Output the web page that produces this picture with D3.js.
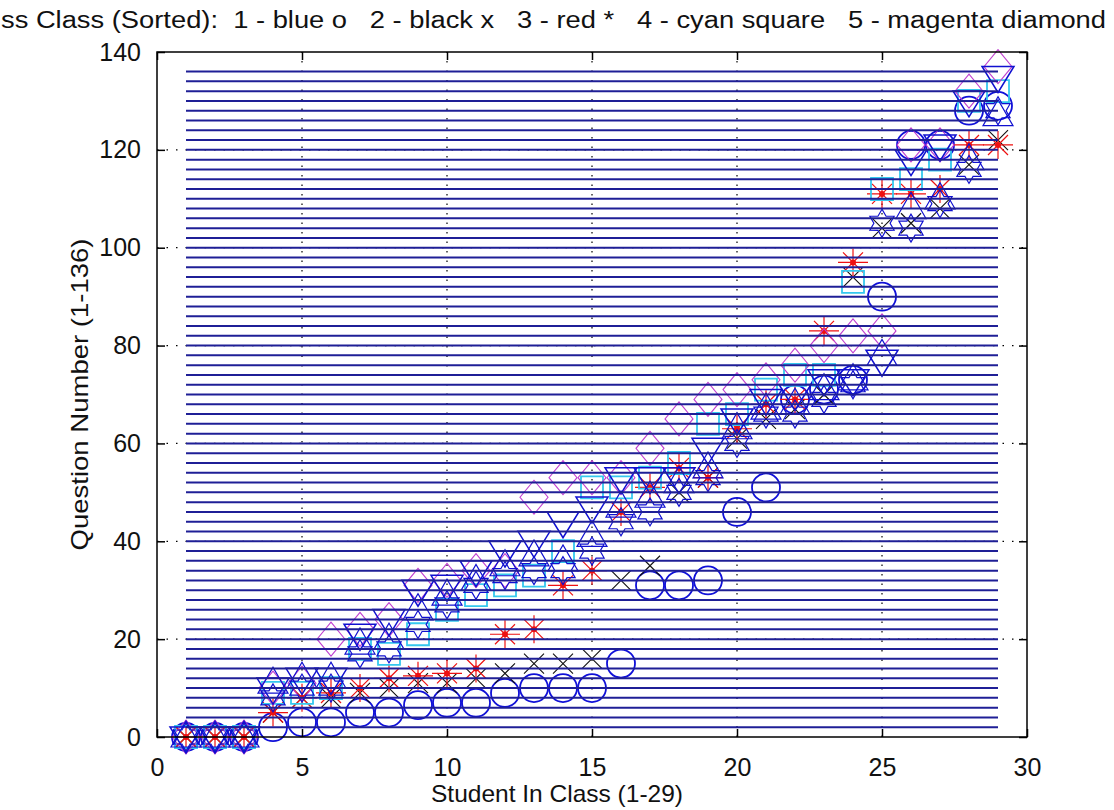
<html lang='eng'>
    <head>
        <title>Questions by Class</title>
        <script src="https://d3js.org/d3.v7.min.js" charset="utf-8"></script>
        <style>
        body{
          margin: 0;
          background: white;
          font-family: "Liberation Sans", Arial, sans-serif;
        }
        text { white-space: pre; }
        </style>
    </head>
    <body>
        <script>
            //Chart data
            var students = [1,2,3,4,5,6,7,8,9,10,11,12,13,14,15,16,17,18,19,20,21,22,23,24,25,26,27,28,29];

            var classBlueO    = [0,0,0,2,3,3,5,5,6.5,7,7,9,10,10,10,15,31,31,32,46,51,69,71,73,90,121,121,128,129];
            var classBlackX   = [0,0,0,5,8,8,9,10,11,11,12,13,15,15,16,32,35,50,53,61,65,67,70,94,104,105,108,117,122];
            var classRedStar  = [0,0,0,5,8,9,10,12,12.5,13,14,21,22,31,34,46,51,55,53,63,68,69,83,97,111,111,112,121,121];
            var classCyanSq   = [0,0,0,9,9,10,18,17,21,26,29,31,33,38,51,51,53,56,64,66,71,74,74,93,112,114,118,130,132];
            var classMagDiam  = [0,0,0,10,11,20,22,24,31,32,34,34,49,53,53,53,59,65,69,71,73,76,80,82,83,121,121,132,137];
            var classBlueV    = [0,0,0,10,12,12,21,24,30,31,34,38,40,44,47,53,53,53,59,65,69,70,73,73,77,118,121,130,135];
            var classBlueUp   = [0,0,0,11,12,12,19,20,26,29,32,35,37,36,41,47,49,52,55,63,67,68,71,73,78,108,110,118,127];
            var classBlueHex  = [0,0,0,8,10,10,17,18,23,27,31,33,34,34,38,44,46,50,53,60,66,66,69,72,105,104,109,116,128];

            //question rows drawn across the class
            var questionRows = [2,4,6,8,10,12,14,16,18,20,22,24,26,28,30,32,34,36,38,40,42,44,46,48,50,52,54,56,58,60,62,64,66,68,
                                70,72,74,76,78,80,82,84,86,88,90,92,94,96,98,100,102,104,106,108,110,112,114,116,118,120,122,124,126,128,130,132,134,136];
            var rowExtent = [1, 29];

            var xTicks = [0,5,10,15,20,25,30];
            var yTicks = [0,20,40,60,80,100,120,140];

            //title as it shows in the figure (its start runs off the left edge)
            var titleText = "ss Class (Sorted):  1 - blue o   2 - black x   3 - red *   4 - cyan square   5 - magenta diamond";

            //Width and height of the figure
            var width = 1114
            var height = 810

            var x = d3.scaleLinear().domain([0, 30]).range([157, 1027]);
            var y = d3.scaleLinear().domain([0, 140]).range([737, 52]);

            var svg = d3.select("body")
                        .append("svg")
                        .attr("width", width)
                        .attr("height", height);

            //grid (dotted)
            svg.append("g").selectAll("line")
              .data(xTicks.slice(1, -1))
              .enter().append("line")
              .attr("x1", function(d){ return x(d); })
              .attr("x2", function(d){ return x(d); })
              .attr("y1", y(0)).attr("y2", y(140))
              .attr("stroke", "#000").attr("stroke-width", 1.2)
              .attr("stroke-dasharray", "1.5,8");
            svg.append("g").selectAll("line")
              .data(yTicks.slice(1, -1))
              .enter().append("line")
              .attr("y1", function(d){ return y(d); })
              .attr("y2", function(d){ return y(d); })
              .attr("x1", x(0)).attr("x2", x(30))
              .attr("stroke", "#000").attr("stroke-width", 1.2)
              .attr("stroke-dasharray", "1.5,8");

            //marker shapes
            function hexagram(r) {
              var pts = [];
              for (var i = 0; i < 12; i++) {
                var a = Math.PI / 2 + i * Math.PI / 6;
                var rr = i % 2 ? r * 0.58 : r;
                pts.push([rr * Math.cos(a), -rr * Math.sin(a)]);
              }
              return "M" + pts.join("L") + "Z";
            }
            var shapes = {
              circle:  "M14,0A14,14 0 1,1 -14,0A14,14 0 1,1 14,0Z",
              cross:   "M-10,-10L10,10M-10,10L10,-10",
              star:    "M-15,0L15,0M0,-14L0,14M-10,-10L10,10M-10,10L10,-10",
              square:  "M-11,-11L11,-11L11,11L-11,11Z",
              diamond: "M0,-17L14,0L0,17L-14,0Z",
              tridown: "M-16,-10L16,-10L0,16Z",
              triup:   "M-15,10L15,10L0,-16Z",
              hex:     hexagram(14)
            };

            var series = [
              {values: classBlueO,   shape: "circle",  color: "#1010d8", w: 1.8},
              {values: classBlackX,  shape: "cross",   color: "#111",    w: 1.1},
              {values: classRedStar, shape: "star",    color: "#ee1111", w: 1.2},
              {values: classCyanSq,  shape: "square",  color: "#35c8ee", w: 1.8},
              {values: classMagDiam, shape: "diamond", color: "#c040d0", w: 1.1},
              {values: classBlueV,   shape: "tridown", color: "#1010d0", w: 1.5},
              {values: classBlueUp,  shape: "triup",   color: "#1010d0", w: 1.2},
              {values: classBlueHex, shape: "hex",     color: "#1010d0", w: 1.2}
            ];

            series.forEach(function(s) {
              svg.append("g").selectAll("path")
                .data(students)
                .enter().append("path")
                .attr("transform", function(d, i){ return "translate(" + x(d) + "," + y(s.values[i]) + ")"; })
                .attr("d", shapes[s.shape])
                .attr("fill", "none")
                .attr("stroke", s.color)
                .attr("stroke-width", s.w);
              if (s.shape == "star") {
                svg.append("g").selectAll("circle")
                  .data(students)
                  .enter().append("circle")
                  .attr("cx", function(d){ return x(d); })
                  .attr("cy", function(d, i){ return y(s.values[i]); })
                  .attr("r", 3)
                  .attr("fill", s.color);
              }
            });

            //question rows
            svg.append("g").selectAll("line")
              .data(questionRows)
              .enter().append("line")
              .attr("x1", x(rowExtent[0]))
              .attr("x2", x(rowExtent[1]))
              .attr("y1", function(d){ return y(d); })
              .attr("y2", function(d){ return y(d); })
              .attr("stroke", "#1f1f96")
              .attr("stroke-width", 2);

            //axes box with inward ticks
            svg.append("rect")
              .attr("x", x(0)).attr("y", y(140))
              .attr("width", x(30) - x(0)).attr("height", y(0) - y(140))
              .attr("fill", "none").attr("stroke", "#000").attr("stroke-width", 1.5);

            var axBottom = svg.append("g").attr("transform", "translate(0," + y(0) + ")")
              .call(d3.axisBottom(x).tickValues(xTicks).tickSizeInner(-8).tickSizeOuter(0).tickPadding(21));
            var axTop = svg.append("g").attr("transform", "translate(0," + y(140) + ")")
              .call(d3.axisTop(x).tickValues(xTicks).tickSizeInner(-8).tickSizeOuter(0).tickFormat(""));
            var axLeft = svg.append("g").attr("transform", "translate(" + x(0) + ",0)")
              .call(d3.axisLeft(y).tickValues(yTicks).tickSizeInner(-8).tickSizeOuter(0).tickPadding(16));
            var axRight = svg.append("g").attr("transform", "translate(" + x(30) + ",0)")
              .call(d3.axisRight(y).tickValues(yTicks).tickSizeInner(-8).tickSizeOuter(0).tickFormat(""));

            [axBottom, axTop, axLeft, axRight].forEach(function(a) {
              a.select(".domain").remove();
              a.selectAll(".tick line").attr("stroke", "#000").attr("stroke-width", 1.5);
              a.selectAll("text")
                .attr("font-family", "'Liberation Sans', Arial, sans-serif")
                .attr("font-size", 25)
                .attr("fill", "#111");
            });

            //labels
            svg.append("text")
              .attr("x", 1).attr("y", 28)
              .attr("font-size", 23)
              .attr("textLength", 1105)
              .attr("lengthAdjust", "spacingAndGlyphs")
              .attr("fill", "#111")
              .text(titleText);

            svg.append("text")
              .attr("x", 557).attr("y", 802)
              .attr("text-anchor", "middle")
              .attr("font-size", 24)
              .attr("textLength", 252)
              .attr("lengthAdjust", "spacingAndGlyphs")
              .attr("fill", "#111")
              .text("Student In Class (1-29)");

            svg.append("text")
              .attr("transform", "translate(88," + ((y(0) + y(140)) / 2) + ") rotate(-90)")
              .attr("text-anchor", "middle")
              .attr("font-size", 24)
              .attr("textLength", 312)
              .attr("lengthAdjust", "spacingAndGlyphs")
              .attr("fill", "#111")
              .text("Question Number (1-136)");
        </script>
    </body>
</html>
